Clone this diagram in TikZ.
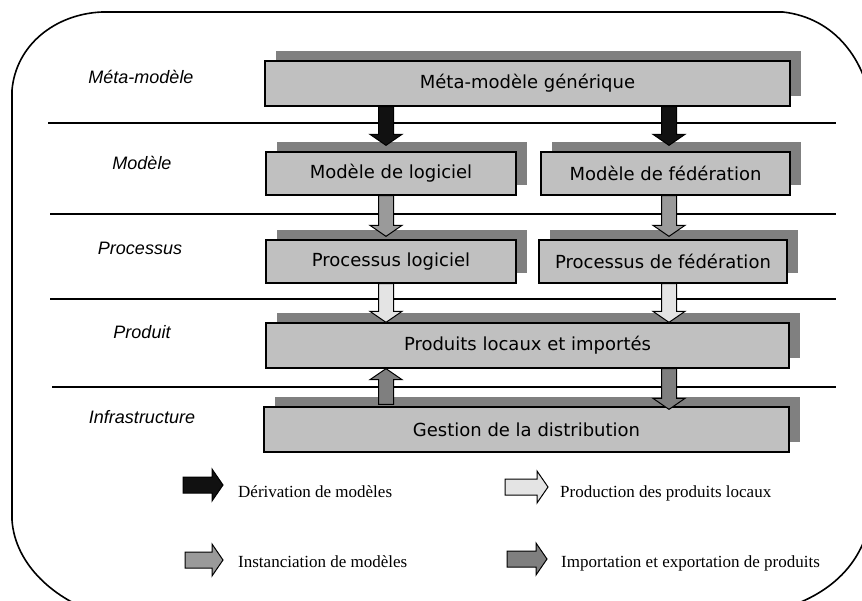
\documentclass[tikz,border=0pt]{standalone}
\usepackage{fontspec}
\setmainfont{Liberation Serif}
\newfontfamily\lblfont{Liberation Sans}
\newfontfamily\bxfont{DejaVu Sans}
\usetikzlibrary{calc,shadows}
\definecolor{boxgray}{HTML}{C0C0C0}
\definecolor{shadowgray}{HTML}{808080}
\definecolor{derivcol}{HTML}{111111}
\definecolor{instcol}{HTML}{9A9A9A}
\definecolor{prodcol}{HTML}{E4E4E4}
\definecolor{impcol}{HTML}{7F7F7F}
% vertical block arrow: fill, start, tip, head offset (-11 down, 11 up)
\newcommand\varrow[4]{\filldraw[blockarrow, fill=#1] ($(#2)+(-7.5,0)$) -- ($(#3)+(-7.5,#4)$) -- ($(#3)+(-16,#4)$) -- (#3) -- ($(#3)+(16,#4)$) -- ($(#3)+(7.5,#4)$) -- ($(#2)+(7.5,0)$) -- cycle;}
% horizontal block arrow (rightwards): fill, start, tip
\newcommand\harrow[3]{\filldraw[blockarrow, fill=#1] ($(#2)+(0,-8)$) -- ($(#3)+(-11,-8)$) -- ($(#3)+(-11,-16)$) -- (#3) -- ($(#3)+(-11,16)$) -- ($(#3)+(-11,8)$) -- ($(#2)+(0,8)$) -- cycle;}
\begin{document}
\begin{tikzpicture}[x=1pt,y=-1pt,
  box/.style={draw=black, line width=1.3pt, fill=boxgray, inner sep=0pt,
    font=\bxfont\fontsize{18}{20}\selectfont,
    general shadow={fill=shadowgray, shadow xshift=11pt, shadow yshift=10pt}},
  layer/.style={font=\lblfont\itshape\fontsize{18}{20}\selectfont},
  sep/.style={line width=1.3pt},
  legend/.style={anchor=base west, inner sep=0pt, font=\fontsize{17}{20}\selectfont},
  blockarrow/.style={draw=black, line width=1pt, line join=miter},
  frame/.style={line width=1.6pt}]
\useasboundingbox (0,0) rectangle (862,600);
\clip (0,0) rectangle (862,600);

% outer frame
\draw[frame] (102,12) -- (783,12) .. controls (835,18) and (866,60) .. (872,110)
  -- (872,505) .. controls (868,562) and (830,598) .. (770,612)
  -- (100,614) .. controls (55,600) and (15,565) .. (12,520)
  -- (12,90) .. controls (16,45) and (55,14) .. (102,12) -- cycle;

% separators
\draw[sep] (48,123) -- (836,123);
\draw[sep] (50,214) -- (836,214);
\draw[sep] (50,299) -- (836,299);
\draw[sep] (52,387) -- (836,387);

% layer labels
\node[layer] (lmeta) at (141,77) {Méta-modèle};
\node[layer] (lmod) at (142,163) {Modèle};
\node[layer] (lproc) at (140,248) {Processus};
\node[layer] (lprod) at (142,332) {Produit};
\node[layer] (linf) at (142,417) {Infrastructure};

% boxes
\node[box, minimum width=525pt, minimum height=45pt] (meta) at (527.5,83.5) {Méta-modèle générique};
\node[box, minimum width=250pt, minimum height=43pt] (mlog) at (391,173.5) {Modèle de logiciel};
\node[box, minimum width=249pt, minimum height=43pt] (mfed) at (665.5,173.5) {Modèle de fédération};
\node[box, minimum width=250pt, minimum height=43pt] (plog) at (391,261.5) {Processus logiciel};
\node[box, minimum width=248pt, minimum height=43pt] (pfed) at (663,261.5) {Processus de fédération};
\node[box, minimum width=523pt, minimum height=45pt] (prod) at (527.5,345.5) {Produits locaux et importés};
\node[box, minimum width=525pt, minimum height=45pt] (gest) at (526.5,429.5) {Gestion de la distribution};

% arrow columns
\coordinate (xl) at (386,0);
\coordinate (xr) at (669,0);

\coordinate (a1s) at (meta.south -| xl); \coordinate (a1t) at ($(mlog.north -| xl)+(0,-6)$);
\coordinate (a2s) at (meta.south -| xr); \coordinate (a2t) at ($(mfed.north -| xr)+(0,-6)$);
\coordinate (b1s) at (mlog.south -| xl); \coordinate (b1t) at ($(plog.north -| xl)+(0,-3)$);
\coordinate (b2s) at (mfed.south -| xr); \coordinate (b2t) at ($(pfed.north -| xr)+(0,-3)$);
\coordinate (c1s) at (plog.south -| xl); \coordinate (c1t) at (prod.north -| xl);
\coordinate (c2s) at (pfed.south -| xr); \coordinate (c2t) at (prod.north -| xr);
\coordinate (d1s) at ($(gest.north -| xl)+(0,-2)$); \coordinate (d1t) at (prod.south -| xl);
\coordinate (d2s) at (prod.south -| xr); \coordinate (d2t) at ($(gest.north -| xr)+(0,3)$);

\varrow{derivcol}{a1s}{a1t}{-11}
\varrow{derivcol}{a2s}{a2t}{-11}
\varrow{instcol}{b1s}{b1t}{-11}
\varrow{instcol}{b2s}{b2t}{-11}
\varrow{prodcol}{c1s}{c1t}{-11}
\varrow{prodcol}{c2s}{c2t}{-11}
\varrow{impcol}{d1s}{d1t}{11}
\varrow{impcol}{d2s}{d2t}{-11}

% legend
\coordinate (k1s) at (183,485); \coordinate (k1t) at (223,485);
\coordinate (k2s) at (505,487); \coordinate (k2t) at (548,487);
\coordinate (k3s) at (185,560); \coordinate (k3t) at (223,560);
\coordinate (k4s) at (507,559); \coordinate (k4t) at (547,559);
\harrow{derivcol}{k1s}{k1t}
\harrow{prodcol}{k2s}{k2t}
\harrow{instcol}{k3s}{k3t}
\harrow{impcol}{k4s}{k4t}
\node[legend] (t1) at (238,497) {Dérivation de modèles};
\node[legend] (t2) at (560,497) {Production des produits locaux};
\node[legend] (t3) at (238,567) {Instanciation de modèles};
\node[legend] (t4) at (561,567) {Importation et exportation de produits};
\end{tikzpicture}
\end{document}
